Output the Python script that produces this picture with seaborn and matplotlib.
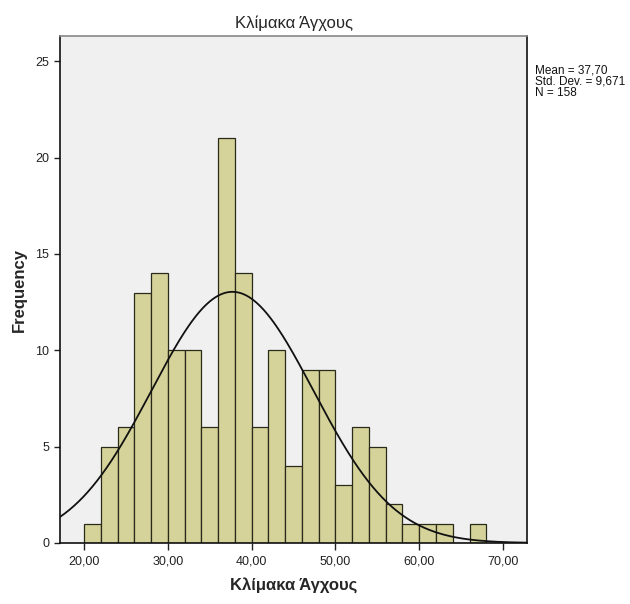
import numpy as np
import pandas as pd
import matplotlib
matplotlib.use("Agg")
import matplotlib.pyplot as plt
import seaborn as sns

bin_edges = [20, 22, 24, 26, 28, 30, 32, 34, 36, 38, 40, 42, 44, 46, 48, 50,
             52, 54, 56, 58, 60, 62, 64, 66, 68]
counts = [1, 5, 6, 13, 14, 10, 10, 6, 21, 14, 6, 10, 4, 9, 9, 3, 6, 5, 2, 1, 1, 1, 0, 1]
mean_val = 37.70
std_val = 9.671
n_val = 158
x_ticks = [20, 30, 40, 50, 60, 70]
y_ticks = [0, 5, 10, 15, 20, 25]

sns.set_theme(style="white")
plt.rcParams['font.family'] = ['Liberation Sans', 'DejaVu Sans']

centers = [(a + b) / 2 for a, b in zip(bin_edges[:-1], bin_edges[1:])]
df = pd.DataFrame({"x": centers, "w": counts})

fig = plt.figure(figsize=(6.3, 6.04), dpi=100)
ax = fig.add_axes([0.095, 0.101, 0.742, 0.839])
ax.set_facecolor("#f0f0f0")

sns.histplot(data=df, x="x", weights="w", bins=bin_edges, ax=ax,
             color="#d5d39a", edgecolor="#2a2a1a", linewidth=0.9, alpha=1.0)

xs = np.linspace(17.1, 72.9, 400)
bw = bin_edges[1] - bin_edges[0]
ys = n_val * bw / (std_val * np.sqrt(2 * np.pi)) * np.exp(-0.5 * ((xs - mean_val) / std_val) ** 2)
ax.plot(xs, ys, color="#111111", linewidth=1.3)

ax.set_xlim(17.1, 72.9)
ax.set_ylim(0, 26.3)
ax.set_xticks(x_ticks)
ax.set_xticklabels([f"{t:.2f}".replace(".", ",") for t in x_ticks])
ax.set_yticks(y_ticks)
ax.set_yticklabels([str(t) for t in y_ticks])
ax.tick_params(axis="both", labelsize=9, colors="#222222", length=4, width=1,
               direction="out", bottom=True, left=True)
ax.tick_params(axis="x", length=5, pad=4)

for side in ["left", "bottom", "right"]:
    ax.spines[side].set_color("#111111")
    ax.spines[side].set_linewidth(1.2)
ax.spines["top"].set_color("#888888")
ax.spines["top"].set_linewidth(1.2)

ax.set_xlabel("Κλίμακα Άγχους", fontsize=12, fontweight="bold", labelpad=7)
ax.set_ylabel("Frequency", fontsize=12, fontweight="bold", labelpad=6)
ax.set_title("Κλίμακα Άγχους", fontsize=12, pad=6)

fig.text(0.849, 0.894, f"Mean = 37,70\nStd. Dev. = 9,671\nN = {n_val}",
         fontsize=8.5, va="top", ha="left", linespacing=0.95, color="#111111")

fig.savefig("out.png", dpi=100, facecolor="white")
